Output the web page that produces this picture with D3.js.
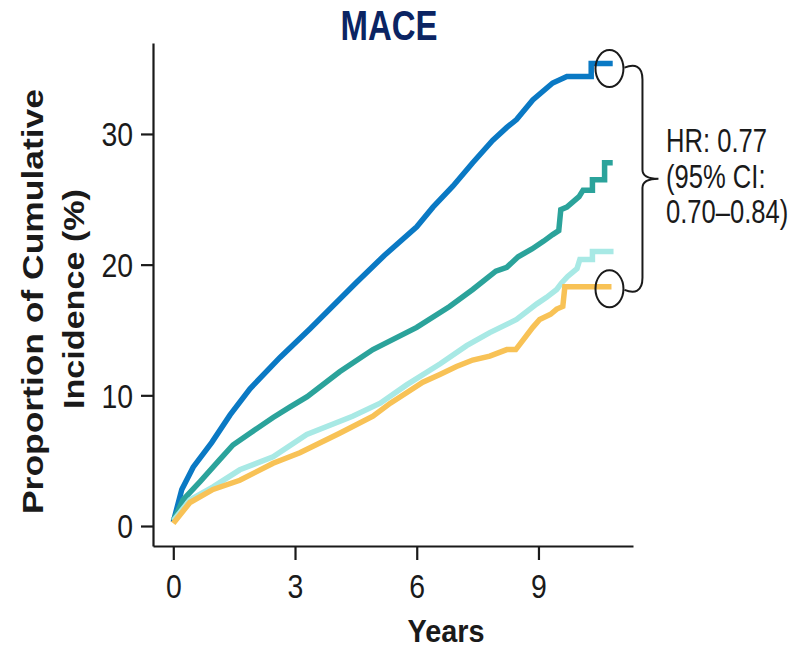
<!DOCTYPE html>
<html>
<head>
<meta charset="utf-8">
<script src="https://cdn.jsdelivr.net/npm/d3@7"></script>
<style>
  body { margin: 0; background: #fff; }
  text { font-family: "Liberation Sans", Arial, sans-serif; }
</style>
</head>
<body>
<svg width="792" height="649"></svg>
<script>
var svg = d3.select("svg");

// cumulative incidence (%), [years, percent]
var blueCurve = [[0,0.3],[0.21,2.8],[0.49,4.5],[0.95,6.4],[1.4,8.5],[1.89,10.5],[2.63,12.9],[3.37,15.1],[4.5,18.6],
  [5.2,20.7],[6.0,22.9],[6.4,24.4],[6.89,26],[7.38,27.8],[7.87,29.5],[8.22,30.5],[8.46,31.1],[8.86,32.6],
  [9.35,33.9],[9.7,34.4],[10.3,34.4],[10.3,35.4],[10.83,35.4]];
var tealCurve = [[0,0.4],[0.24,2.0],[0.66,3.4],[1.15,5.1],[1.47,6.2],[1.89,7.1],[2.46,8.3],[2.87,9.1],[3.3,9.9],
  [4.1,11.8],[4.92,13.5],[6.0,15.2],[6.81,16.8],[7.38,18.1],[7.95,19.5],[8.22,19.8],[8.5,20.6],[8.84,21.2],
  [9.13,21.8],[9.35,22.3],[9.5,22.6],[9.55,24.2],[9.7,24.4],[10.0,25.2],[10.1,25.7],[10.33,25.7],[10.33,26.5],
  [10.63,26.5],[10.63,27.8],[10.83,27.8]];
var cyanCurve = [[0,0.4],[0.41,2.0],[0.98,3.0],[1.64,4.3],[2.46,5.3],[3.29,7.0],[4.42,8.4],[5.1,9.4],[5.75,10.8],
  [6.57,12.4],[7.23,13.8],[7.8,14.8],[8.46,15.8],[8.96,17.0],[9.2,17.5],[9.45,18.1],[9.57,18.6],[9.72,19.1],
  [9.95,19.7],[10.02,20.4],[10.33,20.4],[10.33,21.0],[10.85,21.0]];
var orangeCurve = [[0,0.2],[0.41,1.8],[0.98,2.8],[1.64,3.5],[2.46,4.8],[3.12,5.6],[4.1,7.1],[4.92,8.4],[5.35,9.4],
  [5.75,10.2],[6.15,11.0],[6.57,11.6],[6.98,12.2],[7.38,12.7],[7.8,13.0],[8.22,13.5],[8.44,13.5],[8.54,13.9],
  [8.86,15.2],[9.03,15.8],[9.3,16.2],[9.45,16.6],[9.6,16.8],[9.65,18.3],[10.8,18.3]];

var curves = [blueCurve, tealCurve, cyanCurve, orangeCurve];
var curveColors = ["#0a79c4", "#2ba39b", "#a8e9e5", "#f8c256"];

var xTicks = [0, 3, 6, 9];
var yTicks = [0, 10, 20, 30];
var hrLines = ["HR: 0.77", "(95% CI:", "0.70\u20130.84)"];
var circledEnds = [35.0, 18.15]; // where the ellipses sit, in percent

var x = d3.scaleLinear().domain([-0.5, 11.33]).range([153, 633]);
var y = d3.scaleLinear().domain([-1.53, 36.96]).range([546, 43]);

var ink = "#1a1a1a";

// squeeze text horizontally, the source picture is narrow
function squeeze(sel, k) {
  sel.each(function() {
    var w = this.getComputedTextLength();
    d3.select(this).attr("textLength", w * k).attr("lengthAdjust", "spacingAndGlyphs");
  });
}

// axes
var xAxis = svg.append("g")
    .attr("transform", "translate(0,546)")
    .call(d3.axisBottom(x).tickValues(xTicks).tickSize(14).tickSizeOuter(0).tickFormat(d3.format("d")));
var yAxis = svg.append("g")
    .attr("transform", "translate(153,0)")
    .call(d3.axisLeft(y).tickValues(yTicks).tickSize(12).tickSizeOuter(0).tickPadding(8).tickFormat(d3.format("d")));

[xAxis, yAxis].forEach(function(g) {
  g.select(".domain").attr("stroke", ink).attr("stroke-width", 2.2);
  g.selectAll(".tick line").attr("stroke", ink).attr("stroke-width", 2.2);
  g.selectAll(".tick text")
    .attr("font-size", 33)
    .attr("font-family", "Liberation Sans, Arial, sans-serif")
    .attr("fill", ink);
});
xAxis.selectAll(".tick text").attr("y", 52).attr("dy", null);
yAxis.selectAll(".tick text").attr("dy", "0.36em");
squeeze(xAxis.selectAll(".tick text"), 0.86);
squeeze(yAxis.selectAll(".tick text"), 0.86);

// curves
var line = d3.line()
    .x(function(d) { return x(d[0]); })
    .y(function(d) { return y(d[1]); });

svg.append("g")
  .selectAll("path")
  .data(curves)
  .enter().append("path")
    .attr("d", line)
    .attr("fill", "none")
    .attr("stroke", function(d, i) { return curveColors[i]; })
    .attr("stroke-width", 5.5)
    .attr("stroke-linejoin", "miter")
    .attr("stroke-linecap", "butt");

// ellipses at the ends and the brace
svg.append("g")
  .selectAll("ellipse")
  .data(circledEnds)
  .enter().append("ellipse")
    .attr("cx", x(10.75))
    .attr("cy", function(d) { return y(d); })
    .attr("rx", 14)
    .attr("ry", 18.5)
    .attr("fill", "none")
    .attr("stroke", ink)
    .attr("stroke-width", 2);

var bx = x(10.75) + 15, braceTop = y(circledEnds[0]) - 1, braceBot = y(circledEnds[1]) + 1;
var mid = (braceTop + braceBot) / 2, bar = bx + 18, tip = bx + 34;
svg.append("path")
    .attr("d", "M" + bx + "," + braceTop +
      "C" + (bx + 10) + "," + (braceTop - 4) + " " + bar + "," + (braceTop - 2) + " " + bar + "," + (braceTop + 12) +
      "L" + bar + "," + (mid - 9) +
      "C" + bar + "," + (mid - 3) + " " + (bar + 6) + "," + mid + " " + tip + "," + mid +
      "C" + (bar + 6) + "," + mid + " " + bar + "," + (mid + 3) + " " + bar + "," + (mid + 9) +
      "L" + bar + "," + (braceBot - 12) +
      "C" + bar + "," + (braceBot + 2) + " " + (bx + 10) + "," + (braceBot + 4) + " " + bx + "," + braceBot)
    .attr("fill", "none")
    .attr("stroke", ink)
    .attr("stroke-width", 2);

// HR note: narrow font drawn small and stretched up
svg.append("g")
  .selectAll("text")
  .data(hrLines)
  .enter().append("text")
    .attr("transform", function(d, i) { return "translate(666," + (152 + i * 35.5) + ") scale(1,1.29)"; })
    .attr("font-size", 25.6)
    .attr("fill", ink)
    .text(function(d) { return d; });

// titles
svg.append("text")
    .attr("x", 389).attr("y", 40)
    .attr("text-anchor", "middle")
    .attr("font-size", 42).attr("font-weight", "bold")
    .attr("fill", "#0b2463")
    .attr("textLength", 97).attr("lengthAdjust", "spacingAndGlyphs")
    .text("MACE");

svg.append("text")
    .attr("x", 446).attr("y", 642)
    .attr("text-anchor", "middle")
    .attr("font-size", 32).attr("font-weight", "bold")
    .attr("fill", ink)
    .attr("textLength", 77).attr("lengthAdjust", "spacingAndGlyphs")
    .text("Years");

svg.append("text")
    .attr("transform", "translate(43,301.5) rotate(-90)")
    .attr("text-anchor", "middle")
    .attr("font-size", 29).attr("font-weight", "bold")
    .attr("fill", ink)
    .attr("textLength", 425).attr("lengthAdjust", "spacingAndGlyphs")
    .text("Proportion of Cumulative");

svg.append("text")
    .attr("transform", "translate(84,299) rotate(-90)")
    .attr("text-anchor", "middle")
    .attr("font-size", 29).attr("font-weight", "bold")
    .attr("fill", ink)
    .attr("textLength", 220).attr("lengthAdjust", "spacingAndGlyphs")
    .text("Incidence (%)");
</script>
</body>
</html>
